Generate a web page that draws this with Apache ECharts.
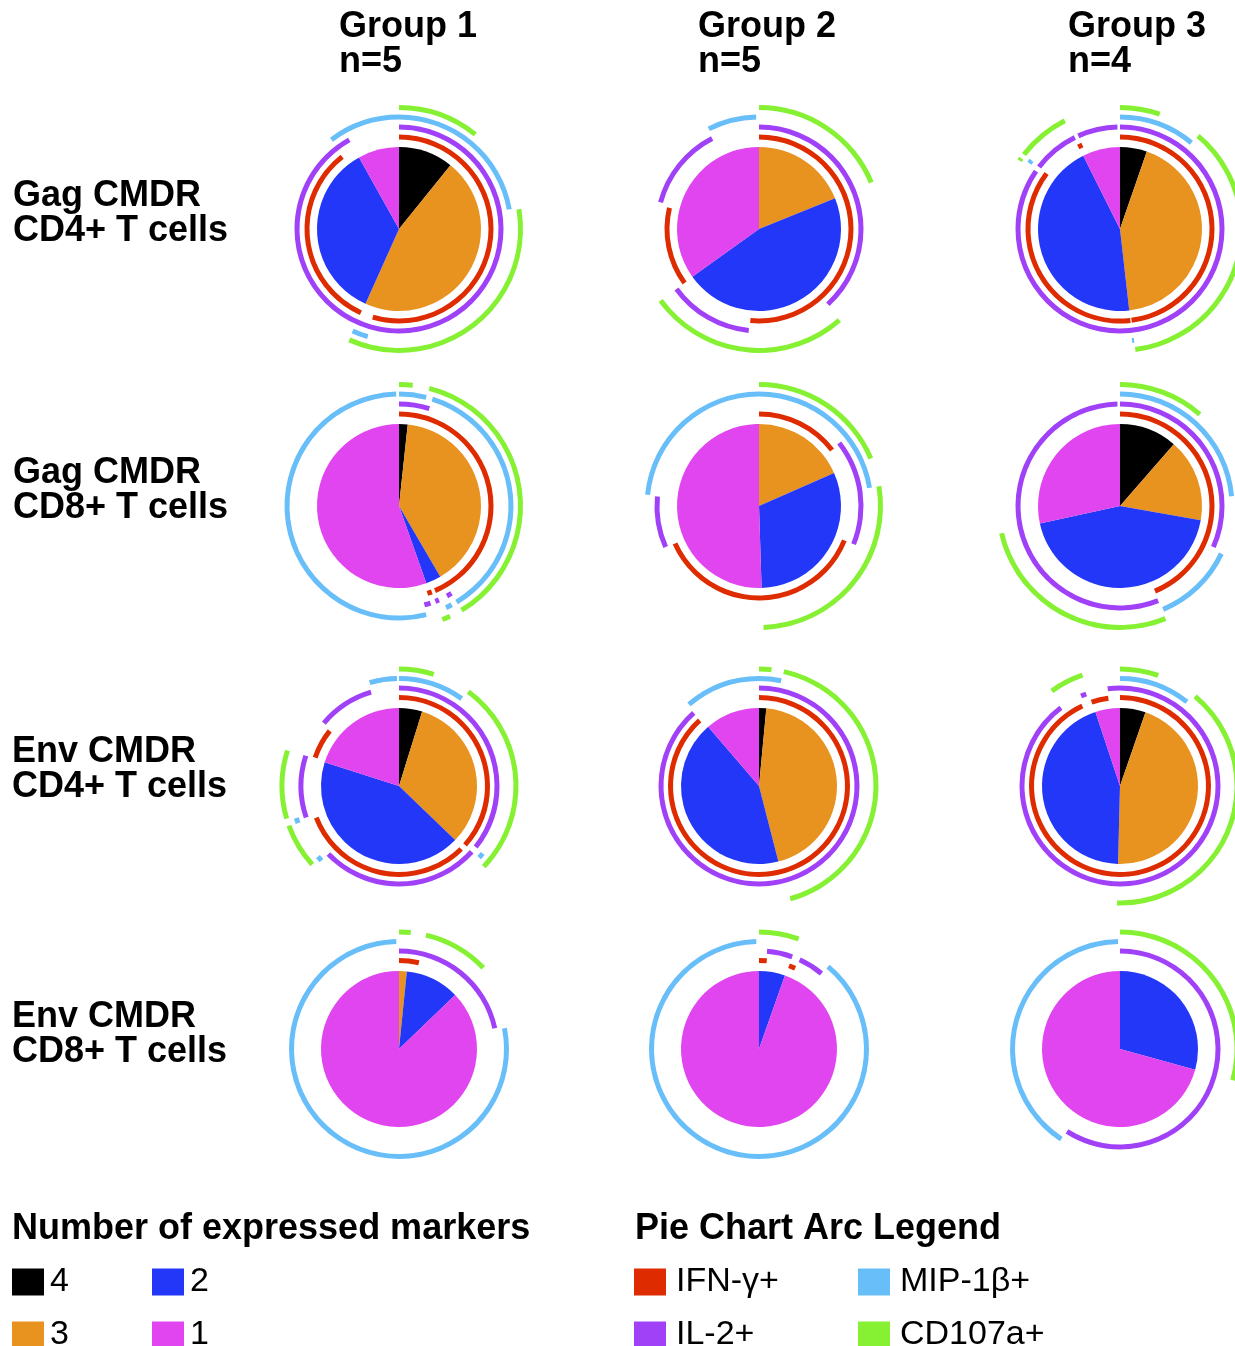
<!DOCTYPE html>
<html>
<head>
<meta charset="utf-8">
<script src="https://cdn.jsdelivr.net/npm/echarts@6/dist/echarts.min.js"></script>
<style>
html,body{margin:0;padding:0;background:#ffffff;}
#chart{width:1235px;height:1346px;}
</style>
</head>
<body>
<div id="chart"></div>
<script>
// ---------------- DATA ----------------
const groupNames = ['Group 1', 'Group 2', 'Group 3'];
const groupSizes = ['n=5', 'n=5', 'n=4'];
const rowTitles = ['Gag CMDR', 'Gag CMDR', 'Env CMDR', 'Env CMDR'];
const rowSubtitles = ['CD4+ T cells', 'CD8+ T cells', 'CD4+ T cells', 'CD8+ T cells'];
const categoryNames = ['4', '3', '2', '1'];
const markerNames = ['IFN-γ+', 'IL-2+', 'MIP-1β+', 'CD107a+'];
const legendTitleCategories = 'Number of expressed markers';
const legendTitleMarkers = 'Pie Chart Arc Legend';

// % of cells expressing 4, 3, 2, 1 markers (clockwise from 12 o'clock)
const slicesGagCD4G1 = [10.8, 45.9, 35.2, 8.1];
const slicesGagCD4G2 = [0, 18.9, 46.2, 34.9];
const slicesGagCD4G3 = [5.3, 42.9, 44.4, 7.4];
const slicesGagCD8G1 = [1.7, 39.9, 3.0, 55.4];
const slicesGagCD8G2 = [0, 18.4, 31.1, 50.5];
const slicesGagCD8G3 = [11.4, 16.4, 43.8, 28.4];
const slicesEnvCD4G1 = [4.8, 32.4, 42.7, 20.1];
const slicesEnvCD4G2 = [1.5, 44.5, 42.7, 11.3];
const slicesEnvCD4G3 = [5.3, 45.1, 44.5, 5.1];
const slicesEnvCD8G1 = [0, 1.6, 11.2, 87.2];
const slicesEnvCD8G2 = [0, 0, 5.4, 94.6];
const slicesEnvCD8G3 = [0, 0, 29.3, 70.7];

// Arcs: [start %, end %] for IFN-γ+, IL-2+, MIP-1β+, CD107a+
const arcsGagCD4G1 = [
  [[0, 54.6], [56.8, 89.4]],
  [[0, 91.9]],
  [[0, 22.2], [54.5, 56.8], [89.7, 100]],
  [[0, 10.8], [22.4, 56.7]]
];
const arcsGagCD4G2 = [
  [[0, 51.5], [65.0, 78.7]],
  [[0, 38.2], [51.6, 65.0], [79.2, 92.4]],
  [[92.6, 99.6]],
  [[0, 18.75], [38.5, 65.0]]
];
const arcsGagCD4G3 = [
  [[0, 48.0], [48.2, 85.3], [92.5, 93.3]],
  [[0, 84.6], [85.4, 92.7], [93.3, 99.6]],
  [[0, 11.0], [48.0, 48.3], [85.0, 85.5]],
  [[0, 5.3], [11.1, 48.0], [84.5, 84.9], [85.5, 92.5]]
];
const arcsGagCD8G1 = [
  [[0, 43.6], [44.2, 45.0]],
  [[0, 4.8], [41.4, 42.2], [43.6, 44.2], [45.0, 46.0]],
  [[0, 3.9], [4.8, 41.4], [42.2, 43.1], [46.1, 99.6]],
  [[0, 1.8], [4.0, 41.4], [43.1, 44.2]]
];
const arcsGagCD8G2 = [
  [[0, 14.6], [31.1, 68.3]],
  [[14.4, 31.1], [68.4, 76.5]],
  [[0, 22.4], [76.6, 100]],
  [[0, 18.6], [22.4, 49.4]]
];
const arcsGagCD8G3 = [
  [[0, 43.8]],
  [[0, 31.6], [43.9, 99.6]],
  [[0, 23.6], [32.0, 43.7]],
  [[0, 11.4], [43.9, 71.4]]
];
const arcsEnvCD4G1 = [
  [[0, 36.6], [37.6, 69.2], [80.2, 85.7]],
  [[0, 35.7], [36.7, 62.8], [69.8, 80.0], [86.1, 95.4]],
  [[0, 9.9], [35.8, 36.6], [62.8, 63.6], [69.4, 70.2], [95.6, 99.7]],
  [[0, 4.8], [10.1, 37.1], [63.3, 69.5], [70.5, 79.9]]
];
const arcsEnvCD4G2 = [
  [[0, 88.3]],
  [[0, 88.4]],
  [[0, 3.3], [88.7, 100]],
  [[0, 1.7], [3.4, 45.7]]
];
const arcsEnvCD4G3 = [
  [[0, 93.0], [94.8, 97.9]],
  [[0, 89.7], [93.5, 94.4], [98.0, 100]],
  [[0, 10.7]],
  [[0, 5.3], [11.1, 50.4], [90.1, 94.8]]
];
const arcsEnvCD8G1 = [
  [[0, 3.6]],
  [[0, 21.6]],
  [[21.9, 99.6]],
  [[0, 1.6], [3.7, 12.8]]
];
const arcsEnvCD8G2 = [
  [[0, 1.4], [5.5, 6.7]],
  [[1.3, 5.5], [6.8, 11.0]],
  [[11.1, 99.6]],
  [[0, 5.5]]
];
const arcsEnvCD8G3 = [
  [],
  [[0, 59.1]],
  [[59.2, 99.7]],
  [[0, 29.3]]
];

// ---------------- LAYOUT / STYLE ----------------
const pieSlices = [
  [slicesGagCD4G1, slicesGagCD4G2, slicesGagCD4G3],
  [slicesGagCD8G1, slicesGagCD8G2, slicesGagCD8G3],
  [slicesEnvCD4G1, slicesEnvCD4G2, slicesEnvCD4G3],
  [slicesEnvCD8G1, slicesEnvCD8G2, slicesEnvCD8G3]
];
const pieArcs = [
  [arcsGagCD4G1, arcsGagCD4G2, arcsGagCD4G3],
  [arcsGagCD8G1, arcsGagCD8G2, arcsGagCD8G3],
  [arcsEnvCD4G1, arcsEnvCD4G2, arcsEnvCD4G3],
  [arcsEnvCD8G1, arcsEnvCD8G2, arcsEnvCD8G3]
];
const categoryColors = ['#000000', '#E8921F', '#2237F7', '#E045F0'];
const markerColors = ['#DE2C00', '#A041F8', '#68BEF8', '#86F033'];
const colX = [399, 759, 1120];
const rowY = [229, 506, 786, 1049];
const pieRadius = [82, 82, 78, 78];
const ringRadii = [
  [92, 102, 112, 121.5],
  [92, 102, 112, 121.5],
  [88.5, 98, 107.5, 117],
  [88.5, 98, 107.5, 117]
];
const ringWidth = 5;
const FONT = '"Liberation Sans", Arial, Helvetica, sans-serif';
const TRANSPARENT = 'rgba(0,0,0,0)';

function ringData(intervals, name, color) {
  const iv = intervals.slice().sort((a, b) => a[0] - b[0]);
  const out = [];
  let pos = 0;
  iv.forEach(([s, e]) => {
    if (s > pos) out.push({ value: s - pos, name: '', itemStyle: { color: TRANSPARENT } });
    const st = Math.max(s, pos);
    if (e > st) out.push({ value: e - st, name: name, itemStyle: { color: color } });
    pos = Math.max(pos, e);
  });
  if (pos < 100) out.push({ value: 100 - pos, name: '', itemStyle: { color: TRANSPARENT } });
  return out;
}

const basePie = {
  type: 'pie',
  startAngle: 90,
  clockwise: true,
  silent: true,
  animation: false,
  avoidLabelOverlap: false,
  minAngle: 0,
  legendHoverLink: false,
  label: { show: false },
  labelLine: { show: false },
  emphasis: { disabled: true, scale: false },
  itemStyle: { borderWidth: 0 }
};

const series = [];
pieSlices.forEach((row, r) => {
  row.forEach((slices, c) => {
    const center = [colX[c], rowY[r]];
    series.push(Object.assign({}, basePie, {
      name: 'pie-' + r + '-' + c,
      center: center,
      radius: [0, pieRadius[r]],
      data: slices.map((v, i) => ({ value: v, name: categoryNames[i], itemStyle: { color: categoryColors[i] } }))
    }));
    pieArcs[r][c].forEach((intervals, m) => {
      const rr = ringRadii[r][m];
      series.push(Object.assign({}, basePie, {
        name: 'arc-' + r + '-' + c + '-' + m,
        center: center,
        radius: [rr - ringWidth / 2, rr + ringWidth / 2],
        data: ringData(intervals, markerNames[m], markerColors[m])
      }));
    });
  });
});

// ---------------- TEXT ----------------
const graphics = [];
function addText(text, x, y, size, bold) {
  graphics.push({
    type: 'text', x: x, y: y, silent: true,
    style: {
      text: text, fill: '#000',
      font: (bold ? 'bold ' : '') + size + 'px ' + FONT,
      textAlign: 'left', textVerticalAlign: 'middle',
      align: 'left', verticalAlign: 'middle'
    }
  });
}
const headerX = [339, 698, 1068];
groupNames.forEach((g, i) => {
  addText(g, headerX[i], 27, 36, true);
  addText(groupSizes[i], headerX[i], 62, 36, true);
});
const rowLabelX = [13, 13, 12, 12];
const rowLabelY = [[196, 231.5], [473, 508.5], [752, 787.5], [1017, 1052.5]];
rowTitles.forEach((t, r) => {
  addText(t, rowLabelX[r], rowLabelY[r][0], 36, true);
  addText(rowSubtitles[r], rowLabelX[r], rowLabelY[r][1], 36, true);
});
addText(legendTitleCategories, 12, 1229, 36, true);
addText(legendTitleMarkers, 635, 1229, 36, true);

// ---------------- LEGENDS ----------------
const legendPos = {
  '4': [12, 1265], '2': [152, 1265], '3': [12, 1318], '1': [152, 1318],
  'IFN-γ+': [634, 1265], 'MIP-1β+': [858, 1265], 'IL-2+': [634, 1318], 'CD107a+': [858, 1318]
};
const legends = Object.keys(legendPos).map(name => ({
  data: [name],
  left: legendPos[name][0],
  top: legendPos[name][1],
  padding: 0,
  icon: 'rect',
  itemWidth: 32,
  itemHeight: 27,
  selectedMode: false,
  textStyle: { fontSize: 34, fontFamily: FONT, color: '#000', lineHeight: 27,
    padding: [0, 0, 0, /^[0-9]$/.test(name) ? 1 : 5] }
}));

const chart = echarts.init(document.getElementById('chart'), null, { renderer: 'canvas' });
chart.setOption({
  backgroundColor: '#ffffff',
  animation: false,
  legend: legends,
  graphic: { elements: graphics },
  series: series
});
</script>
</body>
</html>
